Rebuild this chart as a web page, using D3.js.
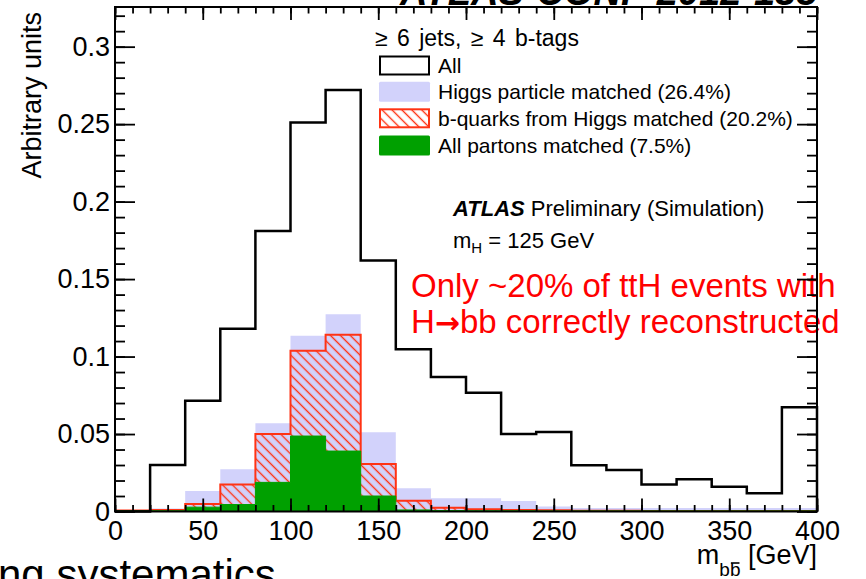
<!DOCTYPE html>
<html>
<head>
<meta charset="utf-8">
<script src="https://cdn.jsdelivr.net/npm/d3@7"></script>
<style>
  html, body { margin: 0; padding: 0; background: #fff; }
  svg { display: block; }
  text { font-family: "Liberation Sans", Arial, Helvetica, sans-serif; }
</style>
</head>
<body>
<svg id="chart" width="866" height="579"></svg>
<script>
// m_bb distribution, 20 GeV bins from 0 to 400 GeV
const binLow = [0, 20, 40, 60, 80, 100, 120, 140, 160, 180, 200, 220, 240, 260, 280, 300, 320, 340, 360, 380];
const binWidth = 20;

const allEvents = [0, 0.030, 0.0715, 0.118, 0.181, 0.251, 0.272, 0.162, 0.1047, 0.0868,
                   0.0767, 0.050, 0.0513, 0.0298, 0.0268, 0.0175, 0.0208, 0.016, 0.0117, 0.0673];
const higgsMatched = [0.0006, 0.002, 0.0132, 0.0272, 0.057, 0.1135, 0.1273, 0.0511, 0.015, 0.0085,
                      0.0085, 0.0068, 0.0032, 0.0022, 0.0022, 0.0022, 0.0022, 0.0022, 0.0022, 0.0022];
const bQuarksMatched = [0.0006, 0.001, 0.0048, 0.0175, 0.050, 0.1038, 0.114, 0.0307, 0.007, 0.0025,
                        0.0015, 0.001, 0.0008, 0.0005, 0.0005, 0.0004, 0.0004, 0.0004, 0.0004, 0.0004];
const allPartonsMatched = [0.0005, 0.0005, 0.0028, 0.0045, 0.0188, 0.0487, 0.039, 0.010, 0.001, 0.0006,
                           0.0005, 0.0005, 0.0004, 0.0004, 0.0004, 0.0004, 0.0004, 0.0004, 0.0004, 0.0004];

const yMajorTicks = [0, 0.05, 0.1, 0.15, 0.2, 0.25, 0.3];
const yTickLabels = ["0", "0.05", "0.1", "0.15", "0.2", "0.25", "0.3"];
const xMajorTicks = [0, 50, 100, 150, 200, 250, 300, 350, 400];
const xTickLabels = ["0", "50", "100", "150", "200", "250", "300", "350", "400"];

const legendTitle = "\u2265 6 jets, \u2265 4 b-tags";
const legendLabels = ["All", "Higgs particle matched (26.4%)", "b-quarks from Higgs matched (20.2%)", "All partons matched (7.5%)"];

const colLavender = "#d2d2fb";
const colRed = "#ff3314";
const colGreen = "#00a000";

const svg = d3.select("#chart");

// frame
const fx0 = 115, fx1 = 817, fy0 = 7, fy1 = 511.5;
const x = d3.scaleLinear().domain([0, 400]).range([fx0, fx1]);
const y = d3.scaleLinear().domain([0, 0.3256]).range([fy1, fy0]);

// hatch pattern for the b-quark histogram
const defs = svg.append("defs");
const pat = defs.append("pattern")
  .attr("id", "hatch")
  .attr("patternUnits", "userSpaceOnUse")
  .attr("width", 10).attr("height", 7)
  .attr("patternTransform", "rotate(45)");
pat.append("line")
  .attr("x1", 0).attr("x2", 10).attr("y1", 3.5).attr("y2", 3.5)
  .attr("stroke", colRed).attr("stroke-width", 1.4);

// step points for a histogram: each bin's low edge, plus the last edge
function stepPoints(vals) {
  const pts = binLow.map((lo, i) => [lo, vals[i]]);
  pts.push([binLow[binLow.length - 1] + binWidth, vals[vals.length - 1]]);
  return pts;
}
function outlinePoints(vals) {
  return [[binLow[0], 0], ...stepPoints(vals), [binLow[binLow.length - 1] + binWidth, 0]];
}

const area = d3.area().curve(d3.curveStepAfter)
  .x(d => x(d[0])).y0(y(0)).y1(d => y(d[1]));
const line = d3.line().curve(d3.curveStepAfter)
  .x(d => x(d[0])).y(d => y(d[1]));

const plot = svg.append("g");

// Higgs particle matched: filled lavender
plot.append("path").attr("d", area(stepPoints(higgsMatched)))
  .attr("fill", colLavender).attr("stroke", "none");

// b-quarks matched: hatched with red outline
plot.append("path").attr("d", area(stepPoints(bQuarksMatched)))
  .attr("fill", "url(#hatch)").attr("stroke", "none");
plot.append("path").attr("d", line(outlinePoints(bQuarksMatched)))
  .attr("fill", "none").attr("stroke", colRed).attr("stroke-width", 2);

// all partons matched: solid green
plot.append("path").attr("d", area(stepPoints(allPartonsMatched)))
  .attr("fill", colGreen).attr("stroke", colGreen).attr("stroke-width", 1);

// all events: black outline
plot.append("path").attr("d", line(outlinePoints(allEvents)))
  .attr("fill", "none").attr("stroke", "#000").attr("stroke-width", 2.5);

// legend
const lg = svg.append("g");
lg.append("text").attr("x", 375).attr("y", 46).attr("font-size", 23).attr("word-spacing", 3).text(legendTitle);
const rowY = [65.5, 91.7, 118.3, 145.5];
const boxX = 380, boxW = 49, boxH = 18;
lg.append("rect").attr("x", boxX).attr("y", rowY[0] - boxH / 2).attr("width", boxW).attr("height", boxH)
  .attr("fill", "#fff").attr("stroke", "#000").attr("stroke-width", 2);
lg.append("rect").attr("x", boxX - 1).attr("y", rowY[1] - 10).attr("width", boxW + 2).attr("height", 20)
  .attr("fill", colLavender).attr("rx", 1.5);
lg.append("rect").attr("x", boxX).attr("y", rowY[2] - boxH / 2).attr("width", boxW).attr("height", boxH)
  .attr("fill", "url(#hatch)").attr("stroke", colRed).attr("stroke-width", 2);
lg.append("rect").attr("x", boxX - 1).attr("y", rowY[3] - 10).attr("width", boxW + 2).attr("height", 20)
  .attr("fill", colGreen).attr("rx", 1.5);
legendLabels.forEach((t, i) => {
  lg.append("text").attr("x", 438).attr("y", rowY[i] + 7.3).attr("font-size", 21).text(t);
});

// ATLAS label
const al = svg.append("text").attr("x", 453).attr("y", 216).attr("font-size", 22);
al.append("tspan").attr("font-weight", "bold").attr("font-style", "italic").text("ATLAS");
al.append("tspan").text(" Preliminary (Simulation)");
const mh = svg.append("text").attr("x", 453).attr("y", 248).attr("font-size", 22);
mh.append("tspan").text("m");
mh.append("tspan").attr("font-size", 15).attr("dy", 5).text("H");
mh.append("tspan").attr("dy", -5).text(" = 125 GeV");

// red annotation (drawn before the frame)
svg.append("text").attr("x", 411).attr("y", 296.5).attr("font-size", 33).attr("fill", "#ff0000")
  .text("Only ~20% of ttH events with");
const l2 = svg.append("text").attr("x", 411).attr("y", 333).attr("font-size", 33).attr("fill", "#ff0000");
l2.append("tspan").text("H");
l2.append("tspan").attr("font-family", "'DejaVu Sans', sans-serif").attr("font-weight", "bold")
  .attr("font-size", 30).text("\u2192");
l2.append("tspan").text("bb correctly reconstructed");

// axes (ticks inside the frame on all four sides)
function minorRange(a, b, s) { const r = []; for (let v = a; v <= b + 1e-9; v += s) r.push(+v.toFixed(4)); return r; }
const yMinor = minorRange(0, 0.32, 0.01);
const xMinor = minorRange(0, 400, 10);

const tickFont = 27;
const axG = svg.append("g");
function styleAxis(g) {
  g.select(".domain").remove();
  g.selectAll(".tick line").attr("stroke", "#000").attr("stroke-width", 1.8);
  g.selectAll("text").attr("font-family", "'Liberation Sans', Arial, Helvetica, sans-serif").attr("fill", "#000");
  g.attr("font-size", tickFont);
}
axG.append("g").attr("transform", `translate(${fx0},0)`)
  .call(d3.axisLeft(y).tickValues(yMinor).tickSize(-10).tickFormat("")).call(styleAxis);
axG.append("g").attr("transform", `translate(${fx0},0)`)
  .call(d3.axisLeft(y).tickValues(yMajorTicks).tickSize(-20).tickPadding(5)
    .tickFormat((d, i) => yTickLabels[i])).call(styleAxis);
axG.append("g").attr("transform", `translate(${fx1},0)`)
  .call(d3.axisRight(y).tickValues(yMinor).tickSize(-10).tickFormat("")).call(styleAxis);
axG.append("g").attr("transform", `translate(${fx1},0)`)
  .call(d3.axisRight(y).tickValues(yMajorTicks).tickSize(-20).tickFormat("")).call(styleAxis);
axG.append("g").attr("transform", `translate(0,${fy1})`)
  .call(d3.axisBottom(x).tickValues(xMinor).tickSize(-6.5).tickFormat("")).call(styleAxis);
axG.append("g").attr("transform", `translate(0,${fy1})`)
  .call(d3.axisBottom(x).tickValues(xMajorTicks).tickSize(-13).tickPadding(9)
    .tickFormat((d, i) => xTickLabels[i])).call(styleAxis);
axG.append("g").attr("transform", `translate(0,${fy0})`)
  .call(d3.axisTop(x).tickValues(xMinor).tickSize(-6.5).tickFormat("")).call(styleAxis);
axG.append("g").attr("transform", `translate(0,${fy0})`)
  .call(d3.axisTop(x).tickValues(xMajorTicks).tickSize(-13).tickFormat("")).call(styleAxis);

svg.append("rect").attr("x", fx0).attr("y", fy0).attr("width", fx1 - fx0).attr("height", fy1 - fy0)
  .attr("fill", "none").attr("stroke", "#000").attr("stroke-width", 2);

// axis titles
svg.append("text").attr("transform", "translate(41,12) rotate(-90)")
  .attr("text-anchor", "end").attr("font-size", 27).text("Arbitrary units");

const xt = svg.append("g");
const tM = xt.append("text").attr("y", 564).attr("font-size", 27).text("m");
const tB1 = xt.append("text").attr("y", 576).attr("font-size", 19).text("b");
const tB2 = xt.append("text").attr("y", 576).attr("font-size", 19).text("b");
const tG = xt.append("text").attr("y", 564).attr("font-size", 27).text("\u00a0[GeV]");
const wM = tM.node().getComputedTextLength();
const wB = tB1.node().getComputedTextLength();
const wG = tG.node().getComputedTextLength();
const xEnd = 817;
const xStart = xEnd - (wM + 2 * wB + wG);
tM.attr("x", xStart);
tB1.attr("x", xStart + wM);
tB2.attr("x", xStart + wM + wB);
tG.attr("x", xStart + wM + 2 * wB);
xt.append("line").attr("x1", xStart + wM + wB + 1).attr("x2", xStart + wM + 2 * wB - 1)
  .attr("y1", 563).attr("y2", 563).attr("stroke", "#000").attr("stroke-width", 1.6);

// slide text around the figure
svg.append("text").attr("x", 400).attr("y", 5).attr("font-size", 38)
  .attr("font-weight", "bold").attr("font-style", "italic").text("ATLAS-CONF-2012-135");
svg.append("text").attr("x", -2).attr("y", 589).attr("font-size", 42)
  .text("ng systematics");
</script>
</body>
</html>
